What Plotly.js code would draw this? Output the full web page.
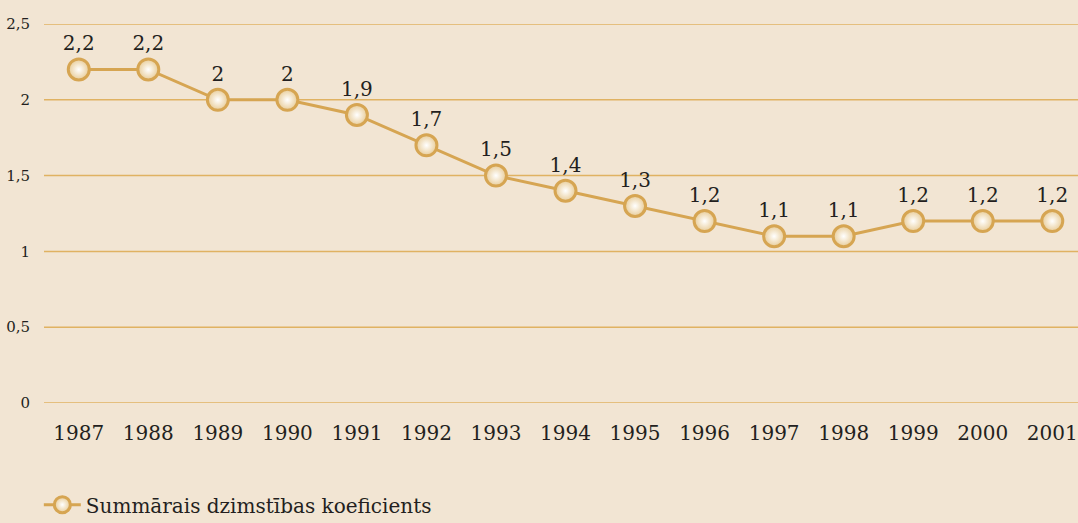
<!DOCTYPE html>
<html>
<head>
<meta charset="utf-8">
<script src="https://cdn.plot.ly/plotly-3.0.1.min.js"></script>
<style>html,body{margin:0;padding:0;background:#F2E5D3;}#chart{width:1078px;height:523px;}</style>
</head>
<body>
<div id="chart"></div>
<script>
const years = [1987,1988,1989,1990,1991,1992,1993,1994,1995,1996,1997,1998,1999,2000,2001];
const values = [2.2,2.2,2.0,2.0,1.9,1.7,1.5,1.4,1.3,1.2,1.1,1.1,1.2,1.2,1.2];
const seriesName = 'Summārais dzimstības koeficients';
const yTicks = [0,0.5,1,1.5,2,2.5];
const FONT = 'DejaVu Serif';
const GRID = 'rgb(224,178,98)';

const trace = {
  x: years, y: values, name: seriesName,
  type: 'scatter', mode: 'lines+markers+text',
  line: {color:'#D6A552', width:3},
  marker: {size:21, color:'#E8CC98', gradient:{type:'radial', color:'#FFFFFF'}, line:{color:'#D6A552', width:3}},
  texttemplate: '%{y}', textposition:'top center',
  textfont:{family:FONT, size:20, color:'#231F20'},
  cliponaxis:false
};
const gridShapes = yTicks.map(v => ({
  type:'line', xref:'paper', x0:0, x1:1, yref:'y', y0:v, y1:v,
  line:{color:GRID, width:1.5}, layer:'below'
}));
const layout = {
  width:1078, height:523,
  paper_bgcolor:'#F2E5D3', plot_bgcolor:'#F2E5D3',
  separators:', ',
  margin:{l:44, r:0, t:24, b:120},
  font:{family:FONT, color:'#231F20'},
  xaxis:{range:[1986.5,2001.37], tickvals:years, showgrid:false, zeroline:false, showline:false,
         ticks:'outside', ticklen:12, tickcolor:'rgba(0,0,0,0)', tickfont:{family:FONT, size:20}},
  yaxis:{range:[0,2.5], tickvals:yTicks, showgrid:false, zeroline:false, showline:false,
         ticks:'outside', ticklen:10, tickcolor:'rgba(0,0,0,0)', tickfont:{family:FONT, size:15}},
  shapes: gridShapes,
  showlegend:true,
  legend:{orientation:'h', x:-0.005, xanchor:'left', yref:'container', y:0.035, yanchor:'middle', font:{family:FONT, size:20}, bgcolor:'rgba(0,0,0,0)', itemwidth:37}
};
Plotly.newPlot('chart',[trace],layout,{displayModeBar:false, staticPlot:true});
</script>
</body>
</html>
